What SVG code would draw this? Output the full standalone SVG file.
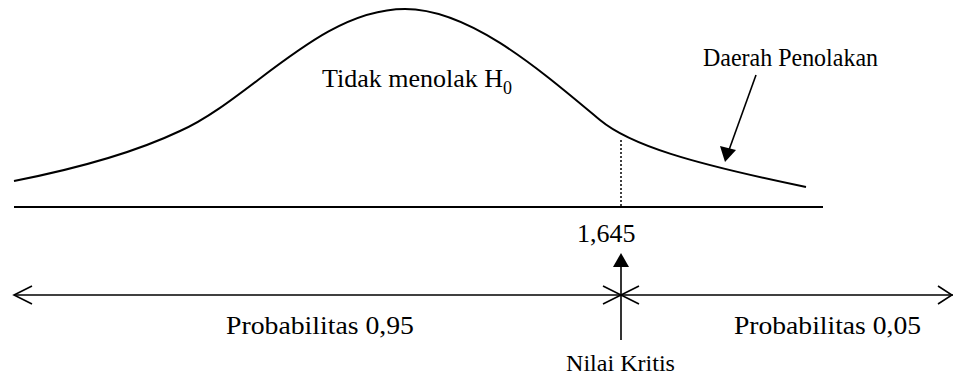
<svg xmlns="http://www.w3.org/2000/svg" width="953" height="376" viewBox="0 0 953 376">
<style>
.ln{fill:none;stroke:#000;stroke-width:2;stroke-linecap:butt}
.thin{fill:none;stroke:#000;stroke-width:1.6}
.t{font-family:"Liberation Serif","Times New Roman",serif;font-size:26px;fill:#000}
.s{font-size:18px}
.ah{fill:#000;stroke:none}
</style>
<rect width="953" height="376" fill="#fff"/>
<g id="curve">
<path class="ln" d="M14,181 C80,168 140,150 180,131 C250,100 320,9 405,9 C470,9 540,70 600,120 C630,145 690,163 806,187"/>
</g>
<g id="baseline">
<line class="ln" x1="14" y1="207" x2="823" y2="207"/>
<line x1="621" y1="140" x2="621" y2="207" stroke="#000" stroke-width="1.5" stroke-dasharray="2,2"/>
</g>
<g id="labels">
<text class="t" x="322" y="87">Tidak menolak H<tspan class="s" dy="7">0</tspan></text>
<text class="t" x="703" y="66" textLength="175" lengthAdjust="spacingAndGlyphs">Daerah Penolakan</text>
<text class="t" x="577" y="242">1,645</text>
<text class="t" x="226" y="334" textLength="188" lengthAdjust="spacingAndGlyphs">Probabilitas 0,95</text>
<text class="t" x="734" y="334" textLength="187" lengthAdjust="spacingAndGlyphs">Probabilitas 0,05</text>
<text class="t" x="566" y="371" style="font-size:23px" textLength="109" lengthAdjust="spacingAndGlyphs">Nilai Kritis</text>
</g>
<g id="connectors">
<line class="thin" x1="756" y1="75" x2="729" y2="150"/>
<polygon class="ah" points="725,162 720,146 736,150"/>
<line class="thin" x1="14" y1="295" x2="953" y2="295"/>
<polyline class="thin" points="32,286 14,295 32,304"/>
<polyline class="thin" points="938,286 952,295 938,304"/>
<polyline class="thin" points="603,286 621,295 603,304"/>
<polyline class="thin" points="639,286 621,295 639,304"/>
<line class="thin" x1="621" y1="266" x2="621" y2="340"/>
<polygon class="ah" points="621,253 613,267 629,267"/>
</g>
</svg>
